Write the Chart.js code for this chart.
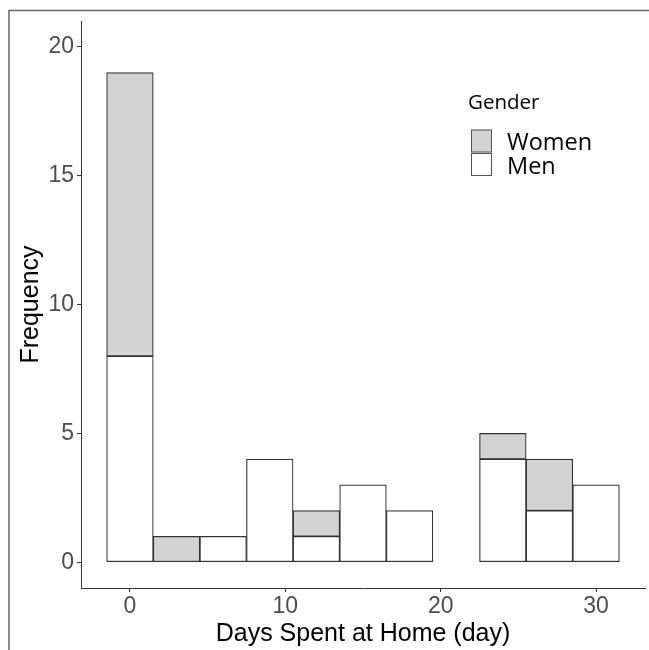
<!DOCTYPE html>
<html lang="en">
  <head>
    <meta charset="UTF-8" />
    <title>Days Spent at Home</title>
    <script src="https://cdn.jsdelivr.net/npm/chart.js"></script>
    <style>
      body {
        margin: 0;
        background: white;
        overflow: hidden;
      }
      #wrap {
        width: 649px;
        height: 650px;
        position: relative;
      }
    </style>
  </head>
  <body>
    <div id="wrap"><canvas id="histChart"></canvas></div>
    <script>
      // bin centres (width 3 days) and counts per gender
      const binCenters = [0, 3, 6, 9, 12, 15, 18, 21, 24, 27, 30]
      const menCounts = [8, 0, 1, 4, 1, 3, 2, 0, 4, 2, 3]
      const womenCounts = [11, 1, 0, 0, 1, 0, 0, 0, 1, 2, 0]
      const xTicks = [0, 10, 20, 30]
      const yTicks = [0, 5, 10, 15, 20]

      const lineColor = '#333333'
      const tickColor = '#4d4d4d'

      Chart.defaults.font.family = "'Liberation Sans', Arial, sans-serif"

      // outer frame (top and left edges only, as in the figure)
      const framePlugin = {
        id: 'frame',
        beforeDraw(chart) {
          const ctx = chart.ctx
          ctx.save()
          ctx.strokeStyle = '#666'
          ctx.lineWidth = 1.5
          ctx.beginPath()
          ctx.moveTo(649, 10.5)
          ctx.lineTo(9, 10.5)
          ctx.lineTo(9, 650)
          ctx.stroke()
          ctx.restore()
        }
      }

      // ggplot style legend inside the panel
      const legendPlugin = {
        id: 'ggLegend',
        afterDraw(chart) {
          const ctx = chart.ctx
          const x0 = 468
          ctx.save()
          ctx.fillStyle = '#000'
          ctx.textBaseline = 'middle'
          ctx.textAlign = 'left'
          ctx.font = "20.5px 'Open Sans', sans-serif"
          ctx.fillText('Gender', x0, 103)
          // women listed first
          const items = chart.data.datasets.slice().reverse()
          items.forEach((ds, i) => {
            const y = 129.5 + i * 23.5
            ctx.fillStyle = ds.backgroundColor
            ctx.fillRect(x0 + 3, y, 21, 23)
            ctx.strokeStyle = '#555'
            ctx.lineWidth = 1
            ctx.strokeRect(x0 + 3.5, y + 0.5, 20, 22)
            ctx.fillStyle = '#000'
            ctx.font = "23.5px 'Open Sans', sans-serif"
            ctx.fillText(ds.label, x0 + 39, y + 14)
          })
          ctx.restore()
        }
      }

      const ctx = document.getElementById('histChart').getContext('2d')
      new Chart(ctx, {
        type: 'bar',
        data: {
          datasets: [
            {
              label: 'Men',
              data: binCenters.map((x, i) => ({ x: x, y: menCounts[i] })),
              backgroundColor: '#ffffff',
              borderColor: lineColor,
              borderWidth: 1.2,
              borderSkipped: false,
              barPercentage: 1,
              categoryPercentage: 1
            },
            {
              label: 'Women',
              data: binCenters.map((x, i) => ({ x: x, y: womenCounts[i] })),
              backgroundColor: '#d3d3d3',
              borderColor: lineColor,
              borderWidth: 1.2,
              borderSkipped: false,
              barPercentage: 1,
              categoryPercentage: 1
            }
          ]
        },
        options: {
          responsive: true,
          maintainAspectRatio: false,
          animation: false,
          layout: {
            padding: { left: 9, top: 21, right: 4, bottom: 0 }
          },
          plugins: {
            legend: { display: false },
            tooltip: { enabled: false }
          },
          scales: {
            x: {
              type: 'linear',
              stacked: true,
              offset: false,
              min: -3.15,
              max: 33.15,
              afterBuildTicks: scale => {
                scale.ticks = xTicks.map(v => ({ value: v }))
              },
              afterFit: scale => {
                scale.height = 62
              },
              grid: {
                display: true,
                drawOnChartArea: false,
                drawTicks: true,
                tickLength: 4,
                color: lineColor,
                offset: false
              },
              border: { display: true, color: lineColor, width: 1 },
              ticks: {
                color: tickColor,
                font: { size: 23 },
                padding: 1,
                maxRotation: 0
              },
              title: {
                display: true,
                text: 'Days Spent at Home (day)',
                color: '#000',
                font: { size: 25 },
                padding: { top: 0, bottom: 1 }
              }
            },
            y: {
              stacked: true,
              min: -1,
              max: 21,
              afterBuildTicks: scale => {
                scale.ticks = yTicks.map(v => ({ value: v }))
              },
              afterFit: scale => {
                scale.width = 72
              },
              grid: {
                display: true,
                drawOnChartArea: false,
                drawTicks: true,
                tickLength: 4,
                color: lineColor
              },
              border: { display: true, color: lineColor, width: 1 },
              ticks: {
                color: tickColor,
                font: { size: 23 },
                padding: 3
              },
              title: {
                display: true,
                text: 'Frequency',
                color: '#000',
                font: { size: 25 },
                padding: { top: 7, bottom: 0 }
              }
            }
          }
        },
        plugins: [framePlugin, legendPlugin]
      })
    </script>
  </body>
</html>
